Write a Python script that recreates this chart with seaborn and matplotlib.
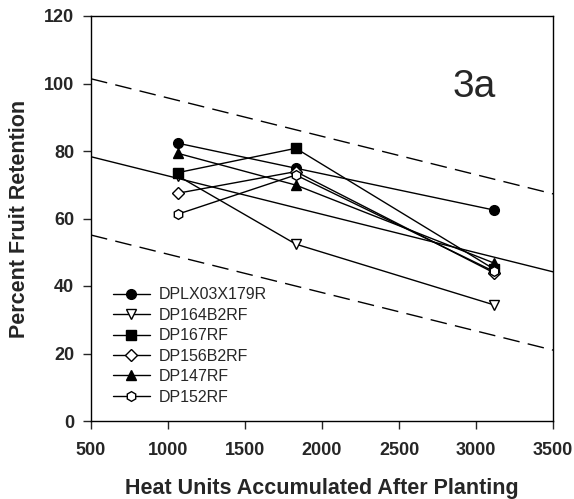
import numpy as np
import pandas as pd
import seaborn as sns
import matplotlib.pyplot as plt

heat_units = [1065, 1830, 3117]
cultivars = ["DPLX03X179R", "DP164B2RF", "DP167RF", "DP156B2RF", "DP147RF", "DP152RF"]
retention = {
    "DPLX03X179R": [82.3, 74.9, 62.5],
    "DP164B2RF": [72.6, 52.4, 34.4],
    "DP167RF": [73.6, 80.8, 45.0],
    "DP156B2RF": [67.5, 73.9, 43.9],
    "DP147RF": [79.3, 69.9, 46.8],
    "DP152RF": [61.3, 72.9, 44.3],
}
markers = {"DPLX03X179R": "o", "DP164B2RF": "v", "DP167RF": "s",
           "DP156B2RF": "D", "DP147RF": "^", "DP152RF": "h"}
filled = {"DPLX03X179R": True, "DP164B2RF": False, "DP167RF": True,
          "DP156B2RF": False, "DP147RF": True, "DP152RF": False}

# regression line and confidence bounds, read at x = 500 and x = 3500
fit_x = [500, 3500]
fit_mid = [78.3, 44.2]
fit_upper = [101.4, 67.3]
fit_lower = [55.1, 21.0]

sns.set_style("ticks")
plt.rcParams["font.family"] = ["Liberation Sans", "DejaVu Sans"]

fig = plt.figure(figsize=(5.74, 4.99), dpi=100)
ax = fig.add_axes([91 / 574, 78 / 499, 462 / 574, 405 / 499])

ax.plot(fit_x, fit_mid, color="black", lw=1)
ax.plot(fit_x, fit_upper, color="black", lw=1, dashes=(12, 6))
ax.plot(fit_x, fit_lower, color="black", lw=1, dashes=(12, 6))

for name in cultivars:
    df = pd.DataFrame({"x": heat_units, "y": retention[name]})
    ms = 7 if markers[name] != "D" else 6
    sns.lineplot(data=df, x="x", y="y", ax=ax, color="black", lw=1,
                 marker=markers[name], markersize=ms, markeredgecolor="black",
                 markerfacecolor="black" if filled[name] else "white",
                 markeredgewidth=1, label=name)

ax.set_xlim(500, 3500)
ax.set_ylim(0, 120)
ax.set_xticks(np.arange(500, 3501, 500))
ax.set_yticks(np.arange(0, 121, 20))
ax.tick_params(direction="out", length=6, width=1, labelsize=13)
ax.tick_params(axis="x", pad=9)
ax.tick_params(axis="y", pad=6)
for lbl in ax.get_xticklabels() + ax.get_yticklabels():
    lbl.set_fontweight("bold")
for s in ax.spines.values():
    s.set_visible(True)
    s.set_linewidth(1)
    s.set_color("black")

ax.set_xlabel("Heat Units Accumulated After Planting", fontsize=15.5, fontweight="bold", labelpad=14)
ax.set_ylabel("Percent Fruit Retention", fontsize=15.5, fontweight="bold", labelpad=10)
ax.text(2845, 96, "3a", fontsize=28)

ax.legend(loc="upper left", bbox_to_anchor=(22 / 462, 0.33), frameon=False,
          fontsize=11.5, handlelength=2.3, labelspacing=0.34, handletextpad=0.55,
          borderpad=0, borderaxespad=0)

fig.savefig("out.png", dpi=100)
